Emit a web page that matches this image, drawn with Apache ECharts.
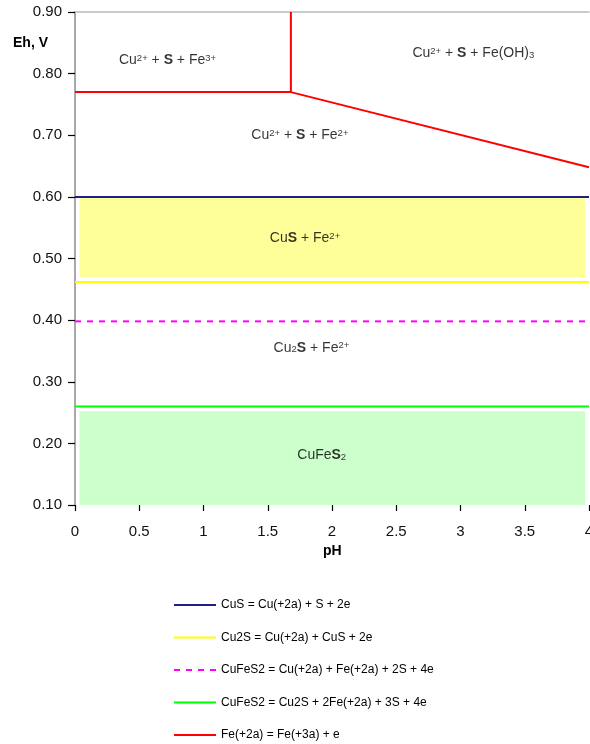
<!DOCTYPE html>
<html>
<head>
<meta charset="utf-8">
<script src="https://cdn.jsdelivr.net/npm/echarts@6/dist/echarts.min.js"></script>
<style>
  html, body { margin: 0; padding: 0; background: #fff; }
  #main { width: 590px; height: 744px; }
</style>
</head>
<body>
<div id="main"></div>
<script>
// 数据
var cusLine = [[0, 0.600], [4, 0.600]];
var cu2sLine = [[0, 0.462], [4, 0.462]];
var cufes2Line1 = [[0, 0.398], [4, 0.398]];
var cufes2Line2 = [[0, 0.260], [4, 0.260]];
var feLine = [[0, 0.770], [1.68, 0.770], [1.68, 0.900], [1.68, 0.770], [4, 0.648]];

var seriesNames = [
    'CuS = Cu(+2a) + S + 2e',
    'Cu2S = Cu(+2a) + CuS + 2e',
    'CuFeS2 = Cu(+2a) + Fe(+2a) + 2S + 4e',
    'CuFeS2 = Cu2S + 2Fe(+2a) + 3S + 4e',
    'Fe(+2a) = Fe(+3a) + e'
];

// 填充区域 [x1, y1, x2, y2]
var yellowZone = [0.035, 0.470, 3.97, 0.598];
var greenZone = [0.035, 0.100, 3.97, 0.252];

// 区域标签
var labelX = [0.72, 3.10, 1.75, 1.79, 1.84, 1.92];
var labelY = [0.822, 0.833, 0.700, 0.533, 0.355, 0.181];
var labelText = [
    'Cu{sup|2+} + {b|S} + Fe{sup|3+}',
    'Cu{sup|2+} + {b|S} + Fe(OH){sub|3}',
    'Cu{sup|2+} + {b|S} + Fe{sup|2+}',
    'Cu{b|S} + Fe{sup|2+}',
    'Cu{sub|2}{b|S} + Fe{sup|2+}',
    'CuFe{b|S}{sub|2}'
];

var myChart = echarts.init(document.getElementById('main'));

var labelData = [];
for (var i = 0; i < labelX.length; i++) {
    labelData.push({value: [labelX[i], labelY[i]], text: labelText[i]});
}

function zone(z, color) {
    return [{coord: [z[0], z[1]], itemStyle: {color: color}}, {coord: [z[2], z[3]]}];
}

var fontFam = '"Liberation Sans", Arial, sans-serif';

var option = {
    animation: false,
    backgroundColor: '#fff',
    grid: {left: 75, right: 1, top: 12, bottom: 239, containLabel: false, outerBoundsMode: 'none'},
    xAxis: [
        {
            type: 'value',
            min: 0,
            max: 4,
            interval: 0.5,
            axisLine: {show: false},
            axisTick: {show: true, length: 6, lineStyle: {color: '#000', width: 1.2}},
            axisLabel: {
                margin: 19,
                color: '#111',
                fontSize: 15,
                fontFamily: fontFam,
                formatter: function (v) { return String(v); }
            },
            splitLine: {show: false}
        },
        {
            type: 'value',
            position: 'top',
            min: 0,
            max: 4,
            axisLine: {show: true, lineStyle: {color: '#bbb', width: 1.5}},
            axisTick: {show: false},
            axisLabel: {show: false},
            splitLine: {show: false}
        }
    ],
    yAxis: [
        {
            type: 'value',
            min: 0.1,
            max: 0.9,
            interval: 0.1,
            axisLine: {show: true, onZero: false, lineStyle: {color: '#000', width: 1.5}},
            axisTick: {show: true, length: 7, lineStyle: {color: '#000', width: 1.2}},
            axisLabel: {
                margin: 13,
                color: '#111',
                fontSize: 15,
                fontFamily: fontFam,
                formatter: function (v) { return v.toFixed(2); }
            },
            splitLine: {show: false}
        },
        {
            type: 'value',
            position: 'right',
            min: 0.1,
            max: 0.9,
            axisLine: {show: true, lineStyle: {color: '#ccc', width: 1.5}},
            axisTick: {show: false},
            axisLabel: {show: false},
            splitLine: {show: false}
        }
    ],
    legend: {
        orient: 'vertical',
        left: 168,
        top: 594,
        height: 200,
        itemWidth: 42,
        itemHeight: 12,
        itemGap: 20.5,
        data: seriesNames,
        itemStyle: {opacity: 0},
        textStyle: {fontSize: 12, color: '#000', fontFamily: fontFam}
    },
    graphic: [
        {type: 'text', left: 13, top: 36, style: {text: 'Eh, V', font: 'bold 14px ' + fontFam, fill: '#000'}},
        {type: 'text', left: 323, top: 544, style: {text: 'pH', font: 'bold 14px ' + fontFam, fill: '#000'}}
    ],
    series: [
        {
            name: 'zones',
            type: 'scatter',
            z: 1,
            symbolSize: 0,
            silent: true,
            data: labelData,
            label: {
                show: true,
                position: 'inside',
                color: '#000',
                fontSize: 14,
                fontFamily: fontFam,
                formatter: function (p) { return p.data.text; },
                rich: {
                    sup: {fontSize: 9.5, lineHeight: 12, verticalAlign: 'top', fontFamily: fontFam},
                    sub: {fontSize: 9.5, lineHeight: 11, verticalAlign: 'bottom', fontFamily: fontFam},
                    b: {fontSize: 14, fontWeight: 'bold', fontFamily: fontFam}
                }
            },
            markArea: {
                silent: true,
                data: [zone(yellowZone, '#ffff99'), zone(greenZone, '#ccffcc')]
            }
        },
        {
            name: seriesNames[0], type: 'line', symbol: 'none', z: 3, data: cusLine,
            lineStyle: {color: '#1e1e8c', width: 2}, itemStyle: {color: '#1e1e8c'}
        },
        {
            name: seriesNames[1], type: 'line', symbol: 'none', z: 3, data: cu2sLine,
            lineStyle: {color: '#ffff00', width: 2}, itemStyle: {color: '#ffff00'}
        },
        {
            name: seriesNames[2], type: 'line', symbol: 'none', z: 3, data: cufes2Line1,
            lineStyle: {color: '#ff00ff', width: 2, type: [6, 6]}, itemStyle: {color: '#ff00ff'}
        },
        {
            name: seriesNames[3], type: 'line', symbol: 'none', z: 3, data: cufes2Line2,
            lineStyle: {color: '#00ff00', width: 2}, itemStyle: {color: '#00ff00'}
        },
        {
            name: seriesNames[4], type: 'line', symbol: 'none', z: 3, data: feLine,
            lineStyle: {color: '#ff0000', width: 2}, itemStyle: {color: '#ff0000'}
        }
    ]
};

myChart.setOption(option);
</script>
</body>
</html>
